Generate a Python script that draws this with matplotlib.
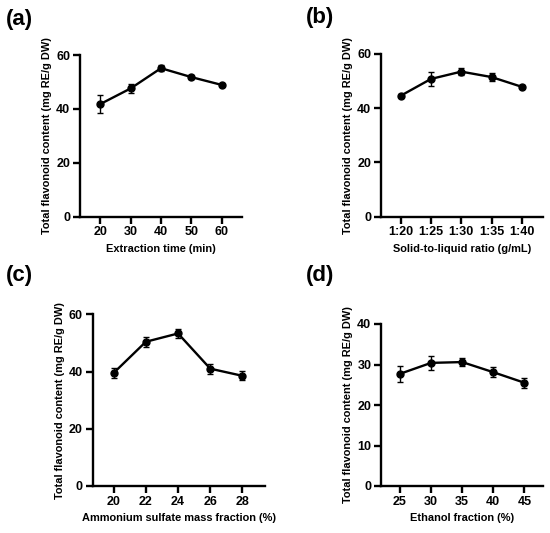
import matplotlib
matplotlib.use("Agg")
import matplotlib.pyplot as plt

plt.rcParams['font.family'] = ['Liberation Sans', 'DejaVu Sans']
plt.rcParams['font.weight'] = 'bold'

# Data
time_x = [20, 30, 40, 50, 60]
time_y = [41.8, 47.6, 55.1, 51.8, 48.9]
time_err = [3.3, 1.8, 1.2, 0.8, 0.4]

ratio_labels = ["1:20", "1:25", "1:30", "1:35", "1:40"]
ratio_y = [44.6, 50.8, 53.5, 51.5, 47.9]
ratio_err = [0.5, 2.6, 1.4, 1.4, 0.5]

amm_x = [20, 22, 24, 26, 28]
amm_y = [39.5, 50.4, 53.3, 41.0, 38.5]
amm_err = [1.9, 1.8, 1.6, 1.75, 1.6]

eth_x = [25, 30, 35, 40, 45]
eth_y = [27.7, 30.4, 30.6, 28.1, 25.5]
eth_err = [1.9, 1.8, 0.9, 1.2, 1.2]

ylabel = "Total flavonoid content (mg RE/g DW)"

W, H = 550, 533
fig = plt.figure(figsize=(W / 100, H / 100), dpi=100)

LAB = 7.9
TICK = 9


def ax_at(left, right, top, bottom):
    return fig.add_axes([left / W, 1 - bottom / H, (right - left) / W, (bottom - top) / H])


def style(ax):
    for s in ['top', 'right']:
        ax.spines[s].set_visible(False)
    for s in ['left', 'bottom']:
        ax.spines[s].set_linewidth(1.7)
    ax.tick_params(width=1.7, length=5, labelsize=TICK, pad=2)
    for lab in ax.get_xticklabels() + ax.get_yticklabels():
        lab.set_fontweight('bold')
    ax.set_ylabel(ylabel, fontsize=LAB, fontweight='bold', labelpad=3)


def draw(ax, x, y, e):
    ax.errorbar(x, y, yerr=e, color='black', lw=1.7, marker='o', ms=5,
                capsize=2.5, elinewidth=1.0, capthick=1.0)


# (a)
ax = ax_at(80, 242, 55, 216.7)
draw(ax, time_x, time_y, time_err)
ax.set_xlim(13.3, 66.7)
ax.set_ylim(0, 60)
ax.set_xticks(time_x)
ax.set_yticks([0, 20, 40, 60])
ax.set_xlabel("Extraction time (min)", fontsize=LAB, fontweight='bold', labelpad=4)
style(ax)
fig.text(6 / W, 1 - 20 / H, "(a)", fontsize=16, fontweight='bold', va='center')

# (b)
ax = ax_at(381, 543, 54, 216.7)
rx = list(range(len(ratio_labels)))
draw(ax, rx, ratio_y, ratio_err)
ax.set_xlim(-0.65, 4.7)
ax.set_ylim(0, 60)
ax.set_xticks(rx)
ax.set_xticklabels(ratio_labels)
ax.set_yticks([0, 20, 40, 60])
ax.set_xlabel("Solid-to-liquid ratio (g/mL)", fontsize=LAB, fontweight='bold', labelpad=4)
style(ax)
fig.text(306 / W, 1 - 18 / H, "(b)", fontsize=16, fontweight='bold', va='center')

# (c)
ax = ax_at(92.7, 265, 314.3, 486)
draw(ax, amm_x, amm_y, amm_err)
ax.set_xlim(18.7, 29.4)
ax.set_ylim(0, 60)
ax.set_xticks(amm_x)
ax.set_yticks([0, 20, 40, 60])
ax.set_xlabel("Ammonium sulfate mass fraction (%)", fontsize=LAB, fontweight='bold', labelpad=4)
style(ax)
fig.text(6 / W, 1 - 275 / H, "(c)", fontsize=16, fontweight='bold', va='center')

# (d)
ax = ax_at(381, 543, 324, 486)
draw(ax, eth_x, eth_y, eth_err)
ax.set_xlim(21.95, 48)
ax.set_ylim(0, 40)
ax.set_xticks(eth_x)
ax.set_yticks([0, 10, 20, 30, 40])
ax.set_xlabel("Ethanol fraction (%)", fontsize=LAB, fontweight='bold', labelpad=4)
style(ax)
fig.text(306 / W, 1 - 276 / H, "(d)", fontsize=16, fontweight='bold', va='center')

fig.savefig("out.png", dpi=100)
